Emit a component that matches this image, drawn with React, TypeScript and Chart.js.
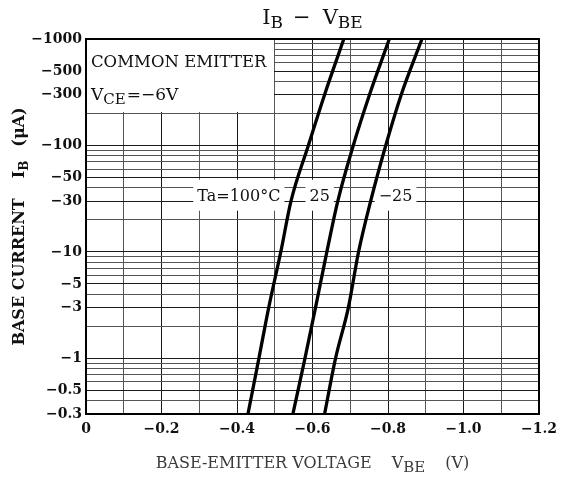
import React, { useEffect, useRef } from "react";
import { Chart, registerables } from "chart.js";

Chart.register(...registerables);

// −IB magnitudes (µA) at which each curve was read
const IB_UA = [0.3, 1, 3, 10, 30, 100, 300, 1000];
// VBE (V) for each temperature
const VBE_100C = [-0.429, -0.458, -0.484, -0.516, -0.543, -0.589, -0.632, -0.683];
const VBE_25C = [-0.548, -0.58, -0.608, -0.638, -0.667, -0.708, -0.751, -0.8035];
const VBE_M25C = [-0.632, -0.661, -0.695, -0.722, -0.754, -0.794, -0.835, -0.89];

const X_TICKS = [0, -0.1, -0.2, -0.3, -0.4, -0.5, -0.6, -0.7, -0.8, -0.9, -1.0, -1.1, -1.2];
const Y_GRID = [
  0.3, 0.4, 0.5, 0.6, 0.7, 0.8, 0.9,
  1, 2, 3, 4, 5, 6, 7, 8, 9,
  10, 20, 30, 40, 50, 60, 70, 80, 90,
  100, 200, 300, 400, 500, 600, 700, 800, 900,
  1000,
];
const Y_LABELED = [0.3, 0.5, 1, 3, 5, 10, 30, 50, 100, 300, 500, 1000];

const CURVE_LABELS = ["Ta=100°C", "25", "−25"];
const CURVE_LABEL_V = [-0.405, -0.619, -0.82];
const CURVE_LABEL_I = 33;
const NOTE_LINE1 = "COMMON EMITTER";
const NOTE_BOX_V = -0.5;
const NOTE_BOX_I = 200;

const SERIF = "'DejaVu Serif', serif";

type Part = { t: string; font: string; dy?: number; gap?: number };

function rich(ctx: CanvasRenderingContext2D, parts: Part[], x: number, y: number, align: "left" | "center") {
  let total = 0;
  for (const p of parts) {
    ctx.font = p.font;
    total += (p.gap || 0) + ctx.measureText(p.t).width;
  }
  let cx = align === "center" ? x - total / 2 : x;
  ctx.textAlign = "left";
  for (const p of parts) {
    cx += p.gap || 0;
    ctx.font = p.font;
    ctx.fillText(p.t, cx, y + (p.dy || 0));
    cx += ctx.measureText(p.t).width;
  }
}

const decor = {
  id: "decor",
  beforeDatasetsDraw(chart: any) {
    const { ctx, chartArea } = chart;
    const x = chart.scales.x;
    const y = chart.scales.y;
    ctx.save();
    // note box
    const l = chartArea.left;
    const t = chartArea.top;
    const r = Math.round(x.getPixelForValue(NOTE_BOX_V)) - 1;
    const b = Math.round(y.getPixelForValue(NOTE_BOX_I)) - 1;
    ctx.fillStyle = "#fff";
    ctx.fillRect(l + 1, t + 1, r - l - 1, b - t - 1);
    ctx.fillStyle = "#111";
    ctx.textBaseline = "alphabetic";
    rich(ctx, [{ t: NOTE_LINE1, font: `16.5px ${SERIF}` }], l + 5, t + 28, "left");
    rich(
      ctx,
      [
        { t: "V", font: `17px ${SERIF}` },
        { t: "CE", font: `15px ${SERIF}`, dy: 4 },
        { t: "=−6V", font: `17px ${SERIF}`, gap: 1 },
      ],
      l + 5,
      t + 61,
      "left"
    );
    // curve labels
    ctx.font = `16px ${SERIF}`;
    ctx.textBaseline = "middle";
    ctx.textAlign = "center";
    const yc = y.getPixelForValue(CURVE_LABEL_I);
    CURVE_LABELS.forEach((s, i) => {
      const xc = x.getPixelForValue(CURVE_LABEL_V[i]);
      const w = ctx.measureText(s).width;
      ctx.fillStyle = "#fff";
      ctx.fillRect(xc - w / 2 - 4, yc - 17, w + 8, 31);
      ctx.fillStyle = "#111";
      ctx.fillText(s, xc, yc);
    });
    ctx.restore();
  },
  afterDatasetsDraw(chart: any) {
    const { ctx, chartArea } = chart;
    ctx.save();
    ctx.strokeStyle = "#000";
    ctx.lineWidth = 2;
    ctx.strokeRect(chartArea.left, chartArea.top, chartArea.right - chartArea.left, chartArea.bottom - chartArea.top);
    // title
    ctx.fillStyle = "#111";
    ctx.textBaseline = "alphabetic";
    const cx = (chartArea.left + chartArea.right) / 2;
    rich(
      ctx,
      [
        { t: "I", font: `21px ${SERIF}` },
        { t: "B", font: `17px ${SERIF}`, dy: 4 },
        { t: "−", font: `21px ${SERIF}`, gap: 10 },
        { t: "V", font: `21px ${SERIF}`, gap: 12 },
        { t: "BE", font: `17px ${SERIF}`, dy: 4 },
      ],
      cx,
      24,
      "center"
    );
    // x title
    ctx.fillStyle = "#3a3a3a";
    rich(
      ctx,
      [
        { t: "BASE-EMITTER VOLTAGE", font: `16px ${SERIF}` },
        { t: "V", font: `16px ${SERIF}`, gap: 20 },
        { t: "BE", font: `15px ${SERIF}`, dy: 4 },
        { t: "(V)", font: `16px ${SERIF}`, gap: 20 },
      ],
      cx,
      468,
      "center"
    );
    // y title
    ctx.fillStyle = "#111";
    const cy = (chartArea.top + chartArea.bottom) / 2;
    ctx.translate(17.5, cy);
    ctx.rotate(-Math.PI / 2);
    rich(
      ctx,
      [
        { t: "BASE CURRENT", font: `bold 16px ${SERIF}` },
        { t: "I", font: `bold 16px ${SERIF}`, gap: 20 },
        { t: "B", font: `bold 12px ${SERIF}`, dy: 4 },
        { t: "(μA)", font: `bold 16px ${SERIF}`, gap: 14 },
      ],
      0,
      6,
      "center"
    );
    ctx.restore();
  },
};

export default function App() {
  const ref = useRef<HTMLCanvasElement | null>(null);
  useEffect(() => {
    if (!ref.current) return;
    const mk = (vs: number[]) => IB_UA.map((v, i) => ({ x: vs[i], y: v }));
    const ds = (label: string, vs: number[]) => ({
      label,
      data: mk(vs),
      borderColor: "#000",
      borderWidth: 3.3,
      pointRadius: 0,
      cubicInterpolationMode: "monotone" as const,
      fill: false,
    });
    const chart = new Chart(ref.current, {
      type: "line",
      data: {
        datasets: [ds("Ta=100°C", VBE_100C), ds("25", VBE_25C), ds("−25", VBE_M25C)],
      },
      options: {
        responsive: false,
        animation: false,
        devicePixelRatio: 1,
        layout: { padding: { left: 0, right: 28, top: 39, bottom: 0 } },
        plugins: { legend: { display: false }, tooltip: { enabled: false }, title: { display: false } },
        scales: {
          x: {
            type: "linear",
            reverse: true,
            min: -1.2,
            max: 0,
            afterBuildTicks: (s: any) => {
              s.ticks = X_TICKS.map((v) => ({ value: v }));
            },
            afterFit: (s: any) => {
              s.height = 63;
            },
            ticks: {
              autoSkip: false,
              maxRotation: 0,
              minRotation: 0,
              padding: 7,
              color: "#111",
              font: { family: "'DejaVu Serif', serif", size: 14, weight: "bold" },
              callback: (value: any) => {
                const v = Number(value);
                const r = Math.round(v * 10);
                if (r % 2 !== 0) return "";
                if (r === 0) return "0";
                return "−" + Math.abs(v).toFixed(1);
              },
            },
            grid: {
              drawTicks: false,
              lineWidth: 1,
              color: (c: any) => (Math.round((c.tick?.value ?? 0) * 10) % 2 === 0 ? "#1a1a1a" : "#555"),
            },
            border: { display: true, color: "#000", width: 2 },
          },
          y: {
            type: "logarithmic",
            min: 0.3,
            max: 1000,
            afterBuildTicks: (s: any) => {
              s.ticks = Y_GRID.map((v) => ({ value: v }));
            },
            afterFit: (s: any) => {
              s.width = 86;
            },
            ticks: {
              autoSkip: false,
              padding: 4,
              color: "#111",
              font: { family: "'DejaVu Serif', serif", size: 14, weight: "bold" },
              callback: (value: any) => (Y_LABELED.includes(Number(value)) ? "−" + String(value) : ""),
            },
            grid: {
              drawTicks: false,
              lineWidth: 1,
              color: (c: any) => (Y_LABELED.includes(c.tick?.value) ? "#1a1a1a" : "#555"),
            },
            border: { display: true, color: "#000", width: 2 },
          },
        },
      },
      plugins: [decor],
    });
    return () => chart.destroy();
  }, []);
  return (
    <div style={{ position: "absolute", left: 0, top: 0, width: 567, height: 477, background: "#fff" }}>
      <canvas ref={ref} width={567} height={477} style={{ display: "block" }} />
    </div>
  );
}
